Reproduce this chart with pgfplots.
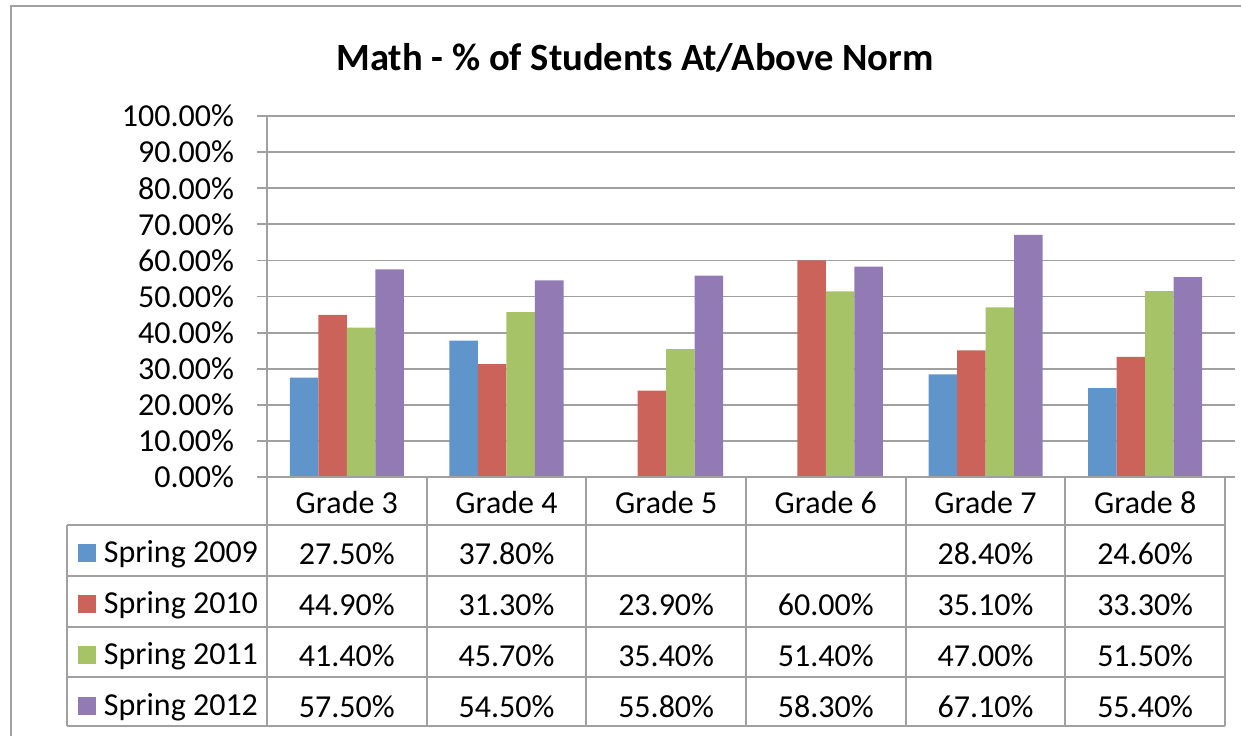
\documentclass[border=0pt]{standalone}
\usepackage{pgfplots}
\pgfplotsset{compat=1.18}
\usepackage{fontspec}
\setmainfont{Carlito}

\definecolor{s09}{HTML}{5F95CB}
\definecolor{s10}{HTML}{CB635B}
\definecolor{s11}{HTML}{A7C367}
\definecolor{s12}{HTML}{927BB4}
\definecolor{gridgray}{HTML}{A0A0A0}

\newcommand{\tblfont}{\fontsize{16}{19}\selectfont}

\begin{document}
\begin{tikzpicture}
\path[use as bounding box] (-133.5pt,-129pt) rectangle (487pt,238.5pt);
% chart frame (cut off at right and bottom)
\draw[gridgray, line width=0.9pt] (-128pt,-130pt) -- (-128pt,235.5pt) -- (488pt,235.5pt);

\node[font=\fontsize{19.3}{23}\selectfont\bfseries] at (184pt,209.5pt) {Math - \% of Students At/Above Norm};

\begin{axis}[
  scale only axis,
  width=479pt, height=180.5pt,
  ymin=0, ymax=100, xmin=-0.5, xmax=5.5,
  ybar=0pt, bar width=14.25pt,
  ytick={0,10,...,100},
  yticklabel={\pgfmathprintnumber[fixed,fixed zerofill,precision=2]{\tick}\%},
  /pgf/number format/assume math mode=true,
  xtick={0,...,5},
  xticklabels={Grade 3,Grade 4,Grade 5,Grade 6,Grade 7,Grade 8},
  axis line style={draw=none},
  ymajorgrids,
  grid style={gridgray, line width=0.9pt},
  tick align=outside, major tick length=5pt,
  ytick style={gridgray, line width=0.9pt},
  xtick style={draw=none},
  ticklabel style={font=\tblfont},
  yticklabel style={xshift=-8pt},
  xticklabel style={anchor=center, yshift=-7.5pt},
  legend image code/.code={\fill[#1,draw=none] (0pt,-4.5pt) rectangle (9pt,4.5pt);},
  legend cell align=left,
  legend style={at={(-0.1973,-0.1410)}, anchor=north west, draw=none, fill=none,
    inner sep=0pt, outer sep=0pt, row sep=0pt, column sep=4pt,
    nodes={inner sep=0pt, minimum height=25.5pt, font=\tblfont}},
]
\addplot[fill=s09, draw=none] coordinates {(0,27.5) (1,37.8) (4,28.4) (5,24.6)};
\addplot[fill=s10, draw=none] coordinates {(0,44.9) (1,31.3) (2,23.9) (3,60.0) (4,35.1) (5,33.3)};
\addplot[fill=s11, draw=none] coordinates {(0,41.4) (1,45.7) (2,35.4) (3,51.4) (4,47.0) (5,51.5)};
\addplot[fill=s12, draw=none] coordinates {(0,57.5) (1,54.5) (2,55.8) (3,58.3) (4,67.1) (5,55.4)};
\legend{Spring 2009,Spring 2010,Spring 2011,Spring 2012}
\end{axis}

% data table grid
\begin{scope}[gridgray, line width=0.9pt]
\draw (0,180.5pt) -- (0,-124.5pt);
\foreach \k in {1,...,6} \draw ({\k*479pt/6},0) -- ({\k*479pt/6},-124.5pt);
\draw (0,0) -- (479pt,0);
\foreach \yy in {-24,-49.5,-75,-100,-124.5} \draw (-100pt,\yy pt) -- (479pt,\yy pt);
\draw (-100pt,-24pt) -- (-100pt,-124.5pt);
\end{scope}

% data table values
\begin{scope}[font=\tblfont]
\foreach \v [count=\i from 0] in {27.50\%,37.80\%,,,28.40\%,24.60\%}
  \node at ({(\i+0.5)*479pt/6},-38.25pt) {\v};
\foreach \v [count=\i from 0] in {44.90\%,31.30\%,23.90\%,60.00\%,35.10\%,33.30\%}
  \node at ({(\i+0.5)*479pt/6},-63.75pt) {\v};
\foreach \v [count=\i from 0] in {41.40\%,45.70\%,35.40\%,51.40\%,47.00\%,51.50\%}
  \node at ({(\i+0.5)*479pt/6},-89.25pt) {\v};
\foreach \v [count=\i from 0] in {57.50\%,54.50\%,55.80\%,58.30\%,67.10\%,55.40\%}
  \node at ({(\i+0.5)*479pt/6},-114.75pt) {\v};
\end{scope}
\end{tikzpicture}
\end{document}
